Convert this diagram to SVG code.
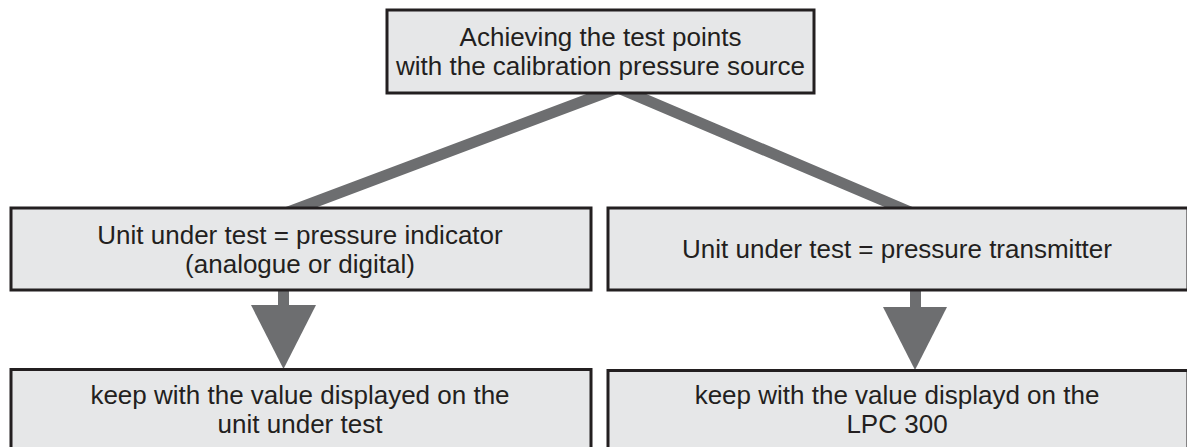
<svg xmlns="http://www.w3.org/2000/svg" width="1187" height="447" viewBox="0 0 1187 447">
<style>
.box{fill:#e6e7e8;stroke:#231f20;stroke-width:3}
.t{font-family:"Liberation Sans",Arial,sans-serif;font-size:26px;fill:#231f20;text-anchor:middle}
.con{fill:none;stroke:#6d6e70;stroke-width:11;stroke-linejoin:miter}
.ah{fill:#6d6e70}
</style>
<rect width="1187" height="447" fill="#ffffff"/>
<g id="connectors">
<polyline class="con" points="283,214 618,88 915,214"/>
<rect class="ah" x="278" y="289" width="11" height="18"/>
<polygon class="ah" points="251,305 316,305 283.5,369"/>
<rect class="ah" x="910" y="289" width="11" height="20"/>
<polygon class="ah" points="883,307 947,307 915,370"/>
</g>
<g id="top">
<rect class="box" x="387" y="10" width="427" height="83"/>
<text class="t" x="600.5" y="46">Achieving the test points</text>
<text class="t" x="600.5" y="75">with the calibration pressure source</text>
</g>
<g id="indicator">
<rect class="box" x="11" y="208" width="580" height="82"/>
<text class="t" x="300" y="244">Unit under test = pressure indicator</text>
<text class="t" x="300" y="273">(analogue or digital)</text>
</g>
<g id="transmitter">
<rect class="box" x="608" y="208" width="580" height="82"/>
<text class="t" x="897" y="258">Unit under test = pressure transmitter</text>
</g>
<g id="keep-uut">
<rect class="box" x="11" y="369.5" width="580" height="90"/>
<text class="t" x="300" y="404">keep with the value displayed on the</text>
<text class="t" x="300" y="433">unit under test</text>
</g>
<g id="keep-lpc">
<rect class="box" x="608" y="370.5" width="580" height="90"/>
<text class="t" x="897" y="404">keep with the value displayd on the</text>
<text class="t" x="897" y="433">LPC 300</text>
</g>
</svg>
